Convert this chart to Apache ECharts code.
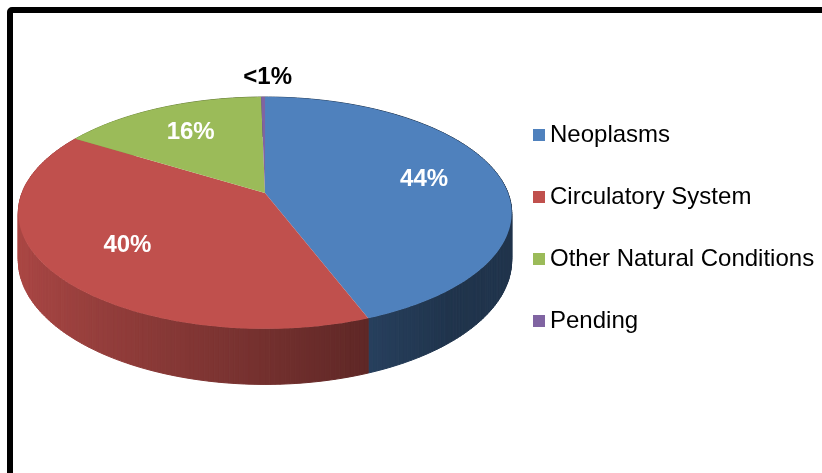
<!DOCTYPE html>
<html>
<head>
<meta charset="utf-8">
<script src="https://cdn.jsdelivr.net/npm/echarts@6/dist/echarts.min.js"></script>
<style>
  html, body { margin: 0; padding: 0; background: #fff; }
  #chart { width: 822px; height: 473px; }
</style>
</head>
<body>
<div id="chart"></div>
<script>
// chart data
var categories = ["Neoplasms", "Circulatory System", "Other Natural Conditions", "Pending"];
var values = [44.2, 39.6, 15.9, 0.3];
var colors = ["#4f81bd", "#c0504d", "#9bbb59", "#8064a2"];

// 3d pie look (pixels)
var CX = 265, CY = 193;   // where the slices meet on the top face
var RX = 243, RY = 112.5;
var PERSP = 0.172;        // front of the disc looks a bit bigger
var DEPTH = 46;
var LABEL_R = 0.68;
var FONT = '"Liberation Sans", Arial, sans-serif';

var total = values.reduce(function (a, b) { return a + b; }, 0);
var starts = [];
var acc = 0;
values.forEach(function (v) {
  starts.push(acc / total * Math.PI * 2);
  acc += v;
});

// angle is clockwise from 12 o'clock, r is 0..1 of the radius, h drops the point down
function project(theta, r, h) {
  var u = r * Math.sin(theta);
  var v = -r * Math.cos(theta);
  var p = 1 / (1 - PERSP * v);
  return [CX + RX * u * p, CY + (RY * v + h) * p];
}

function shade(hex, f) {
  var n = parseInt(hex.slice(1), 16);
  var r = Math.round(((n >> 16) & 255) * f);
  var g = Math.round(((n >> 8) & 255) * f);
  var b = Math.round((n & 255) * f);
  return "rgb(" + r + "," + g + "," + b + ")";
}

function renderSlice(i) {
  return function (params, api) {
    var a0 = starts[i];
    var a1 = a0 + values[i] / total * Math.PI * 2;
    var steps = Math.max(2, Math.ceil((a1 - a0) / (Math.PI / 180)));
    var children = [];

    // side wall, drawn as thin strips so the shading can change along it
    for (var k = 0; k < steps; k++) {
      var t0 = a0 + (a1 - a0) * k / steps;
      var t1 = a0 + (a1 - a0) * (k + 1) / steps;
      var mid = (t0 + t1) / 2;
      var f = Math.max(0.4, 0.6 - 0.3 * Math.sin(mid));
      var c = shade(colors[i], f);
      children.push({
        type: "polygon",
        shape: { points: [project(t0, 1, 0), project(t1, 1, 0), project(t1, 1, DEPTH), project(t0, 1, DEPTH)] },
        style: { fill: c, stroke: c, lineWidth: 1 },
        z2: 2 - Math.cos(mid)
      });
    }

    // top face
    var pts = [[CX, CY]];
    for (var j = 0; j <= steps; j++) {
      pts.push(project(a0 + (a1 - a0) * j / steps, 1, 0));
    }
    children.push({
      type: "polygon",
      shape: { points: pts },
      style: { fill: colors[i] },
      z2: 10
    });

    // percent label
    var pct = values[i] / total * 100;
    var small = pct < 1;
    var pos = project((a0 + a1) / 2, small ? 1.25 : LABEL_R, 0);
    children.push({
      type: "text",
      x: pos[0] + (small ? 5 : 0),
      y: pos[1],
      style: {
        text: small ? "<1%" : Math.round(pct) + "%",
        fill: small ? "#000" : "#fff",
        fontSize: 24,
        fontWeight: "bold",
        fontFamily: FONT,
        align: "center",
        verticalAlign: "middle"
      },
      z2: 30
    });

    return { type: "group", children: children };
  };
}

var chart = echarts.init(document.getElementById("chart"));

var series = categories.map(function (name, i) {
  return {
    type: "custom",
    name: name,
    coordinateSystem: "none",
    itemStyle: { color: colors[i] },
    data: [[values[i]]],
    renderItem: renderSlice(i)
  };
});

var option = {
  backgroundColor: "#fff",
  animation: false,
  graphic: [{
    type: "rect",
    shape: { x: 10, y: 10, width: 900, height: 600, r: 2 },
    style: { fill: "none", stroke: "#000", lineWidth: 6 },
    z: 100
  }],
  legend: {
    data: categories,
    orient: "vertical",
    left: 528,
    top: 117,
    icon: "rect",
    itemWidth: 12,
    itemHeight: 12,
    itemGap: 36,
    textStyle: { fontSize: 24, lineHeight: 26, color: "#000", fontFamily: FONT }
  },
  series: series
};

chart.setOption(option);
</script>
</body>
</html>
